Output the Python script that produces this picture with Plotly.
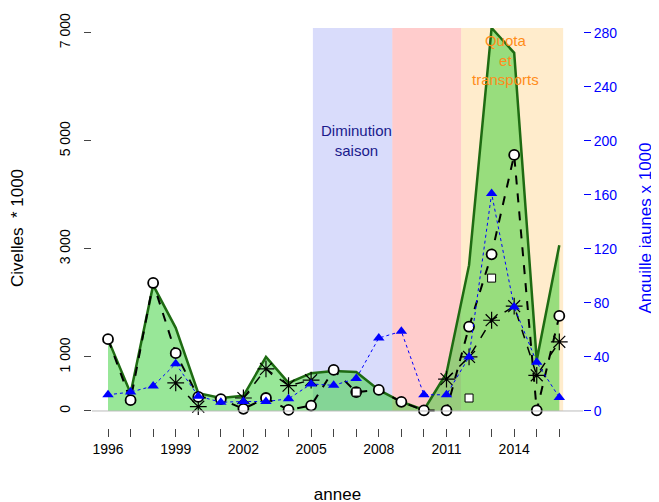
import plotly.graph_objects as go

annees = list(range(1996, 2017))
total = [1330, 330, 2330, 1540, 330, 240, 280, 1000, 520, 700, 740, 720,
         390, 170, 20, 700, 2700, 7090, 6630, 940, 3070]
cercles = [1330, 200, 2370, 1070, 260, 220, 40, 240, 20, 100, 760, 350,
           390, 170, 10, 10, 1560, 2900, 4740, 10, 1760]
carres_x = [2007, 2012, 2013]
carres = [350, 240, 2460]
etoiles = [None, None, None, 520, 80, None, 240, 780, 470, 570, None, None,
           None, None, None, 590, 1000, 1680, 1940, 660, 1280]
anguilles = [12, 14, 18.5, 35, 11, 6.5, 7, 7, 9, 20, 19, 24,
             54, 59, 12, 12, 40, 161, 77, 36, 10]

fig = go.Figure()

zones = [(2005.08, 2008.6, "rgba(120,130,240,0.28)"),
         (2008.6, 2011.65, "rgba(255,120,120,0.38)"),
         (2011.65, 2016.17, "rgba(255,200,110,0.35)")]
for x0, x1, c in zones:
    fig.add_shape(type="rect", x0=x0, x1=x1, y0=0, y1=7090, xref="x", yref="y",
                  fillcolor=c, line_width=0, layer="below")

fig.add_hline(y=0, line_color="#bbbbbb", line_width=1)

fig.add_trace(go.Scatter(x=annees, y=total, mode="lines", fill="tozeroy",
                         fillcolor="rgba(40,205,40,0.48)",
                         line=dict(color="#1e6b12", width=2.5)))
fig.add_trace(go.Scatter(x=annees, y=etoiles, mode="lines+markers",
                         line=dict(color="black", width=1.5, dash="dash"),
                         marker=dict(symbol="asterisk-open", size=14, color="black",
                                     line=dict(color="black", width=1.2))))
fig.add_trace(go.Scatter(x=annees, y=cercles, mode="lines+markers",
                         line=dict(color="black", width=2, dash="dash"),
                         marker=dict(symbol="circle", size=10, color="white",
                                     line=dict(color="black", width=1.8))))
fig.add_trace(go.Scatter(x=carres_x, y=carres, mode="markers",
                         marker=dict(symbol="square", size=8, color="white",
                                     line=dict(color="black", width=1))))
fig.add_trace(go.Scatter(x=annees, y=anguilles, yaxis="y2", mode="lines+markers",
                         line=dict(color="blue", width=1, dash="dot"),
                         marker=dict(symbol="triangle-up", size=10, color="blue")))

fig.add_annotation(x=2007.0, y=5000, text="Diminution<br>saison", showarrow=False,
                   font=dict(color="#1a1a8c", size=15))
fig.add_annotation(x=2013.6, y=6500, text="Quota<br>et<br>transports", showarrow=False,
                   font=dict(color="#ff8c1a", size=15))

fig.update_layout(
    width=659, height=502, showlegend=False,
    plot_bgcolor="white", paper_bgcolor="white",
    margin=dict(l=84, r=84, t=20, b=82),
    font=dict(family="Liberation Sans, Arial", size=14, color="black"),
    xaxis=dict(range=[1995.29, 2017.05], tickvals=annees, automargin=False,
               ticktext=[str(a) if (a - 1996) % 3 == 0 else "" for a in annees],
               ticks="outside", ticklen=8, showgrid=False, zeroline=False,
               title=dict(text="annee", standoff=32)),
    yaxis=dict(range=[-315, 7090], tickvals=[0, 1000, 3000, 5000, 7000], automargin=False,
               ticktext=["0", "1 000", "3 000", "5 000", "7 000"], tickangle=-90,
               ticks="outside", ticklen=7, showgrid=False, zeroline=False,
               ticklabelstandoff=8,
               showline=False, title=dict(text="Civelles  * 1000", standoff=30)),
    yaxis2=dict(overlaying="y", side="right", range=[-315 * 0.04, 7090 * 0.04],
                tickvals=list(range(0, 281, 40)), ticks="outside", ticklen=7,
                tickcolor="blue", tickfont=dict(color="blue"), showgrid=False,
                zeroline=False, showline=False, automargin=False,
                title=dict(text="Anguille jaunes x 1000", standoff=22,
                           font=dict(color="blue"))),
)

fig.write_html("out.html")
